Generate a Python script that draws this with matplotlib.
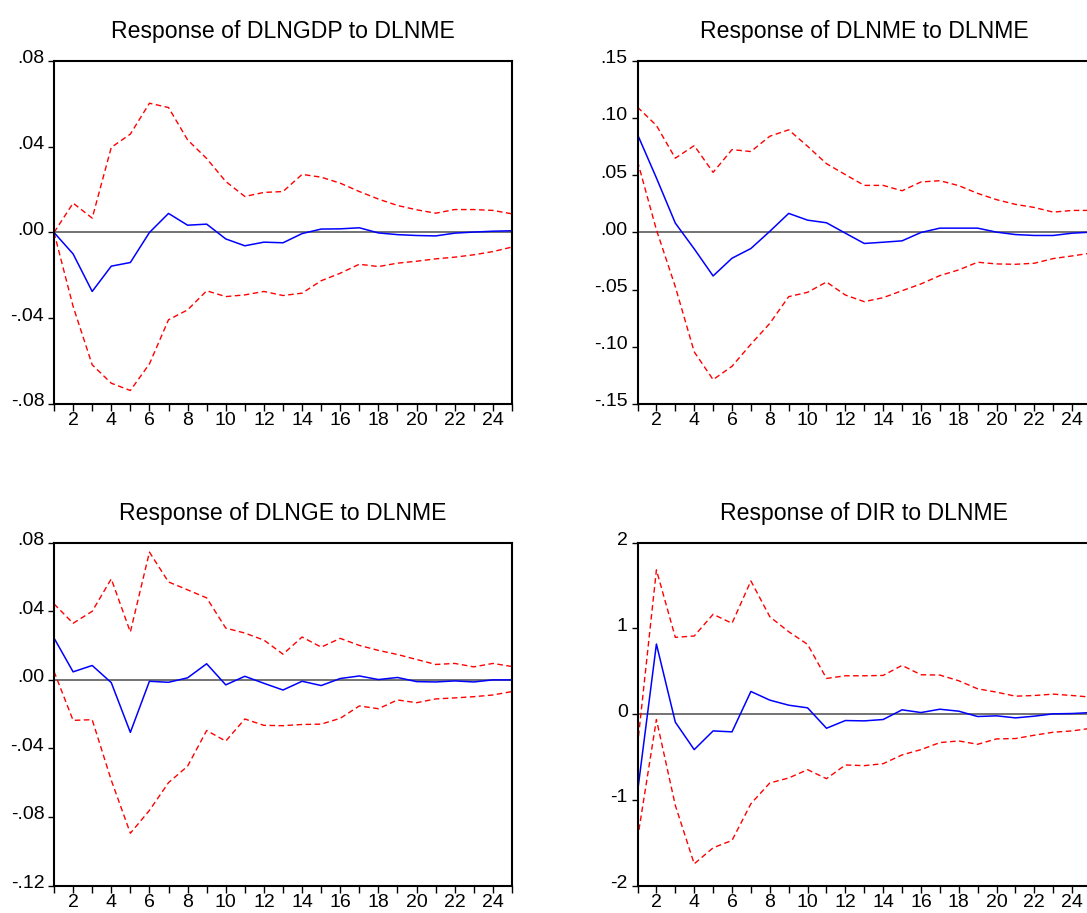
import matplotlib
matplotlib.use('Agg')
import matplotlib.pyplot as plt
import matplotlib.transforms as mtransforms

plt.rcParams['font.family'] = ['Liberation Sans', 'DejaVu Sans']

periods = list(range(1, 26))

# Response of DLNGDP to DLNME
gdp_resp = [0.0, -0.010, -0.0275, -0.0157, -0.014, 0.0, 0.0089, 0.0034, 0.0039, -0.003,
            -0.0062, -0.0045, -0.0048, -0.0005, 0.0016, 0.0017, 0.0022, -0.0002, -0.001, -0.0014,
            -0.0016, -0.0003, 0.0002, 0.0006, 0.0008]
gdp_upper = [0.0, 0.0137, 0.0067, 0.0397, 0.0459, 0.0603, 0.0583, 0.0432, 0.0345, 0.0238,
             0.0168, 0.0187, 0.0191, 0.0271, 0.0258, 0.023, 0.0191, 0.0156, 0.0126, 0.0106,
             0.009, 0.0107, 0.0107, 0.0103, 0.0087]
gdp_lower = [0.0, -0.0345, -0.0617, -0.0703, -0.0737, -0.0613, -0.0407, -0.0361, -0.0272, -0.0299,
             -0.0291, -0.0275, -0.0294, -0.0283, -0.0225, -0.019, -0.0148, -0.0159, -0.0143, -0.0134,
             -0.0123, -0.0115, -0.0104, -0.0089, -0.0068]

# Response of DLNME to DLNME
me_resp = [0.0857, 0.0477, 0.0082, -0.0143, -0.038, -0.0225, -0.014, 0.001, 0.0167, 0.0108,
           0.0085, -0.0006, -0.0096, -0.0085, -0.0073, 0.0, 0.0038, 0.0038, 0.0038, 0.0003,
           -0.0018, -0.0026, -0.0026, -0.0006, 0.0003]
me_upper = [0.1096, 0.0936, 0.065, 0.076, 0.0526, 0.0725, 0.0708, 0.0842, 0.0898, 0.0754,
            0.0602, 0.0506, 0.0412, 0.0412, 0.0365, 0.0442, 0.0453, 0.041, 0.0342, 0.0287,
            0.0246, 0.0219, 0.0178, 0.0193, 0.0193]
me_lower = [0.0623, 0.0023, -0.0474, -0.1044, -0.1287, -0.117, -0.0977, -0.0795, -0.0561, -0.0523,
            -0.0433, -0.0547, -0.0605, -0.057, -0.0509, -0.045, -0.0377, -0.0327, -0.026, -0.0275,
            -0.0278, -0.0269, -0.0228, -0.0205, -0.018]

# Response of DLNGE to DLNME
ge_resp = [0.0244, 0.0047, 0.0084, -0.0016, -0.0306, -0.0008, -0.0014, 0.0012, 0.0094, -0.0029,
           0.0021, -0.002, -0.0059, -0.0008, -0.0033, 0.0008, 0.0023, 0.0002, 0.0014, -0.001,
           -0.0012, -0.0006, -0.0012, 0.0, 0.0]
ge_upper = [0.0443, 0.033, 0.04, 0.0589, 0.0279, 0.0745, 0.0571, 0.0525, 0.0478, 0.0302,
            0.0273, 0.0232, 0.015, 0.025, 0.0191, 0.0242, 0.0201, 0.0172, 0.0148, 0.0119,
            0.009, 0.0096, 0.0076, 0.0096, 0.0078]
ge_lower = [0.0049, -0.0236, -0.0232, -0.0585, -0.0894, -0.0761, -0.0599, -0.0503, -0.0295, -0.0357,
            -0.0228, -0.0265, -0.0267, -0.026, -0.0258, -0.0224, -0.0152, -0.0168, -0.0117, -0.0133,
            -0.0111, -0.0105, -0.0098, -0.0088, -0.0068]

# Response of DIR to DLNME
dir_resp = [-0.908, 0.818, -0.093, -0.413, -0.195, -0.206, 0.265, 0.164, 0.105, 0.074,
            -0.164, -0.074, -0.078, -0.062, 0.051, 0.019, 0.058, 0.035, -0.027, -0.019,
            -0.043, -0.023, 0.004, 0.008, 0.019]
dir_upper = [-0.362, 1.683, 0.896, 0.912, 1.165, 1.06, 1.554, 1.137, 0.962, 0.814,
             0.417, 0.448, 0.448, 0.452, 0.569, 0.46, 0.456, 0.39, 0.296, 0.257,
             0.21, 0.218, 0.234, 0.218, 0.199]
dir_lower = [-1.453, -0.062, -1.063, -1.745, -1.558, -1.472, -1.044, -0.802, -0.744, -0.647,
             -0.752, -0.592, -0.6, -0.577, -0.475, -0.413, -0.331, -0.312, -0.351, -0.288,
             -0.284, -0.245, -0.21, -0.195, -0.164]

titles = ['Response of DLNGDP to DLNME', 'Response of DLNME to DLNME',
          'Response of DLNGE to DLNME', 'Response of DIR to DLNME']

gdp_yticks = [-0.08, -0.04, 0.0, 0.04, 0.08]
gdp_ylabels = ['-.08', '-.04', '.00', '.04', '.08']
me_yticks = [-0.15, -0.10, -0.05, 0.0, 0.05, 0.10, 0.15]
me_ylabels = ['-.15', '-.10', '-.05', '.00', '.05', '.10', '.15']
ge_yticks = [-0.12, -0.08, -0.04, 0.0, 0.04, 0.08]
ge_ylabels = ['-.12', '-.08', '-.04', '.00', '.04', '.08']
dir_yticks = [-2, -1, 0, 1, 2]
dir_ylabels = ['-2', '-1', '0', '1', '2']

panels = [
    (titles[0], gdp_resp, gdp_upper, gdp_lower, gdp_yticks, gdp_ylabels, [0.0497, 0.5575, 0.4213, 0.3757]),
    (titles[1], me_resp, me_upper, me_lower, me_yticks, me_ylabels, [0.5865, 0.5575, 0.4172, 0.3757]),
    (titles[2], ge_resp, ge_upper, ge_lower, ge_yticks, ge_ylabels, [0.0497, 0.0299, 0.4213, 0.3757]),
    (titles[3], dir_resp, dir_upper, dir_lower, dir_yticks, dir_ylabels, [0.5865, 0.0299, 0.4172, 0.3757]),
]

fig = plt.figure(figsize=(10.87, 9.13), dpi=100)
up = mtransforms.ScaledTranslation(0, 3 / 72, fig.dpi_scale_trans)

for title, resp, upper, lower, yt, yl, rect in panels:
    ax = fig.add_axes(rect)
    ax.axhline(0, color='#4d4d4d', lw=1.1)
    ax.plot(periods, upper, color='#ff0000', lw=1.0, ls=(0, (4, 2.5)))
    ax.plot(periods, lower, color='#ff0000', lw=1.0, ls=(0, (4, 2.5)))
    ax.plot(periods, resp, color='#0000ff', lw=1.1)
    ax.set_xlim(1, 25)
    ax.set_ylim(yt[0], yt[-1])
    ax.set_xticks(periods, [str(p) if p % 2 == 0 else '' for p in periods])
    ax.set_yticks(yt, yl)
    ax.tick_params(axis='x', length=5, width=1, pad=1, labelsize=14)
    ax.tick_params(axis='y', length=4.5, width=1, pad=2.5, labelsize=14)
    for sp in ax.spines.values():
        sp.set_linewidth(1.5)
    ax.set_title(title, fontsize=16.6, pad=16.5)
    for lab in ax.get_yticklabels():
        lab.set_transform(lab.get_transform() + up)

fig.savefig('out.png', dpi=100)
